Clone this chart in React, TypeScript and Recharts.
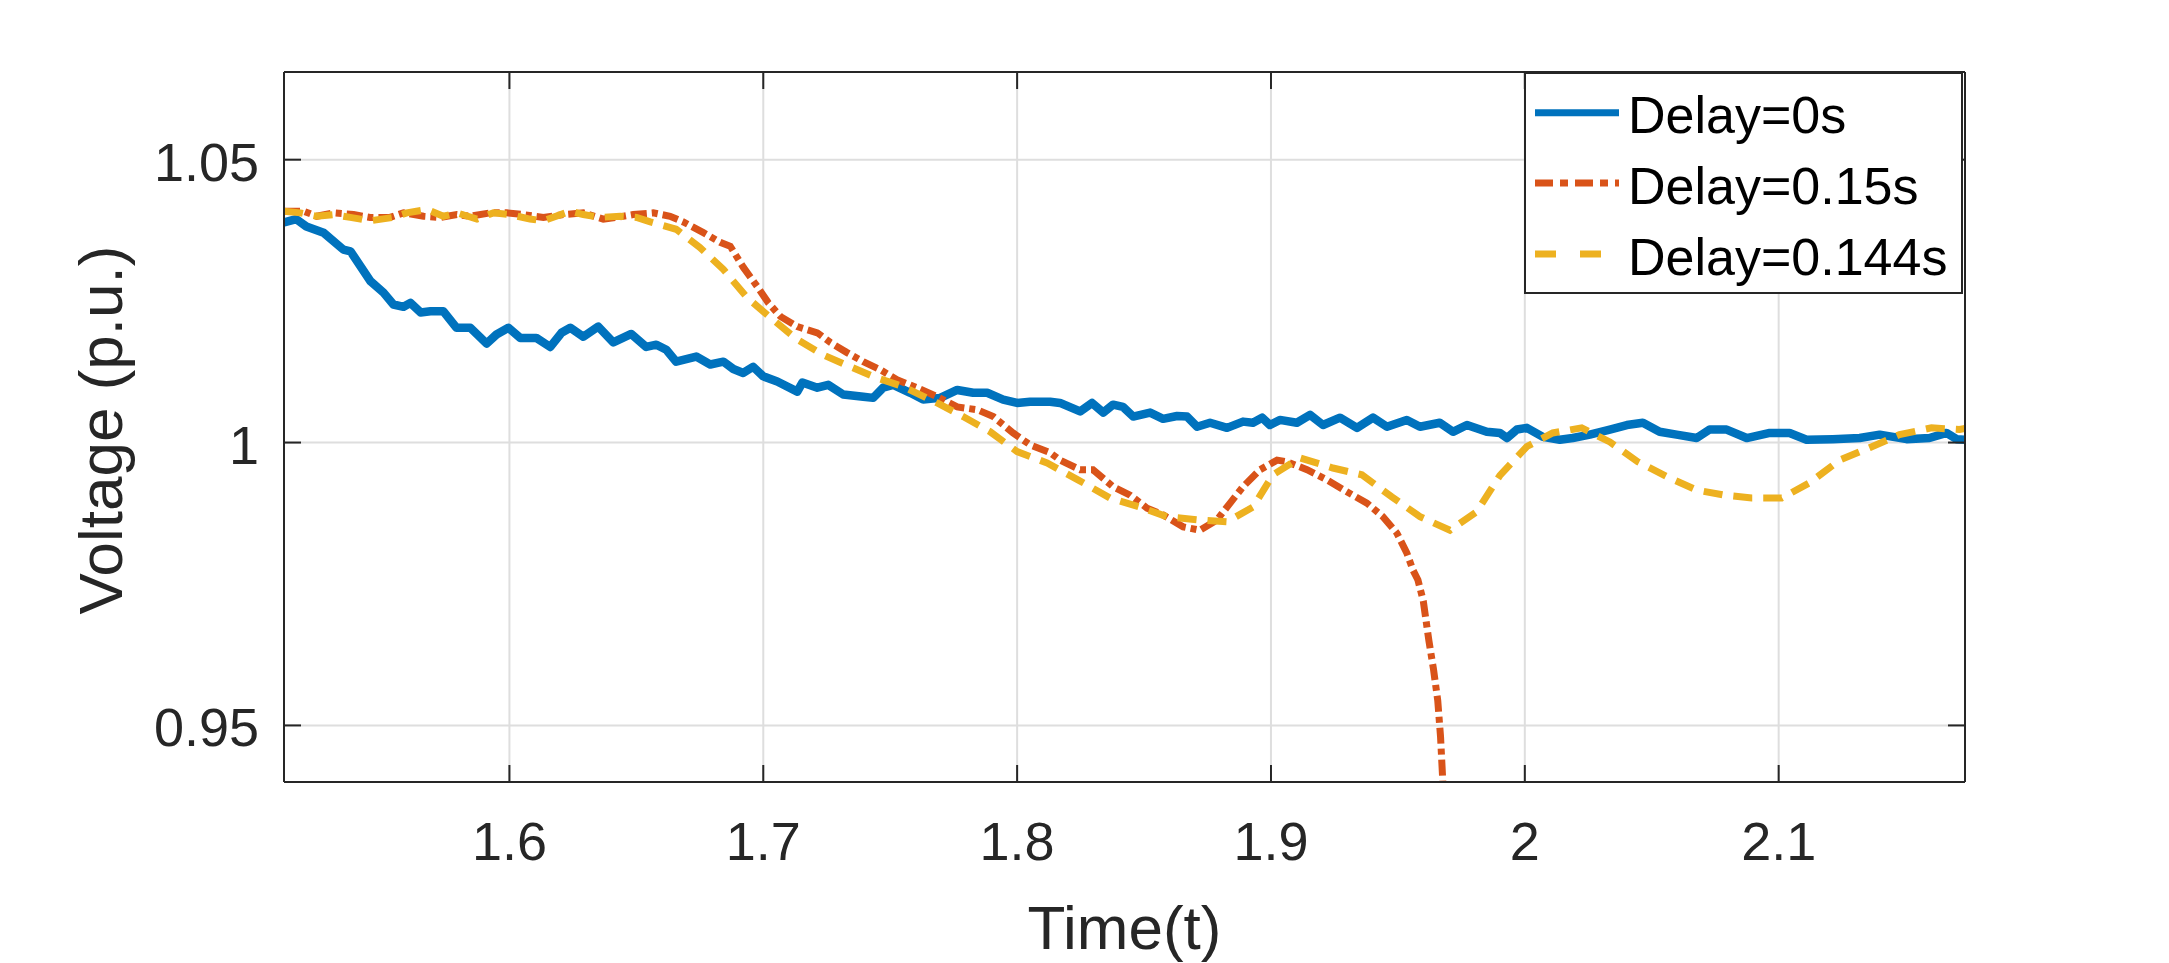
import React from 'react';
import { LineChart, Line, XAxis, YAxis, CartesianGrid, Legend } from 'recharts';

const xTicks = [1.6, 1.7, 1.8, 1.9, 2, 2.1];
const yTicks = [0.95, 1, 1.05];
const xDomain: [number, number] = [1.5112, 2.1734];
const yDomain: [number, number] = [0.94, 1.0655];
const seriesNames = ['Delay=0s', 'Delay=0.15s', 'Delay=0.144s'];
const seriesColors = ['#0072BD', '#D95319', '#EDB120'];

const delay0Raw: [number, number][] = [
  [1.5112, 1.0389], [1.516, 1.0395], [1.52, 1.0382], [1.5268, 1.0371], [1.5346, 1.0341], [1.5374, 1.0338],
  [1.5453, 1.0285], [1.5504, 1.0265], [1.5543, 1.0244], [1.5583, 1.024], [1.561, 1.0247], [1.565, 1.023],
  [1.5689, 1.0232], [1.574, 1.0232], [1.5791, 1.0203], [1.5846, 1.0203], [1.591, 1.0175], [1.5949, 1.0191],
  [1.5996, 1.0203], [1.6043, 1.0185], [1.6106, 1.0185], [1.6161, 1.0169], [1.6205, 1.0194], [1.624, 1.0203],
  [1.6291, 1.0187], [1.635, 1.0205], [1.6409, 1.0177], [1.648, 1.0192], [1.6539, 1.0169], [1.6579, 1.0173],
  [1.6618, 1.0164], [1.6657, 1.0143], [1.6736, 1.0152], [1.6791, 1.0138], [1.6843, 1.0143], [1.6882, 1.013],
  [1.6921, 1.0123], [1.696, 1.0134], [1.7, 1.0117], [1.7055, 1.0108], [1.7134, 1.009], [1.7154, 1.0106],
  [1.7213, 1.0097], [1.7256, 1.0102], [1.7315, 1.0085], [1.7394, 1.0081], [1.7433, 1.0079], [1.7472, 1.0097],
  [1.7512, 1.0102], [1.7579, 1.0088], [1.763, 1.0076], [1.7697, 1.0079], [1.7764, 1.0093], [1.7827, 1.0088],
  [1.7882, 1.0088], [1.7945, 1.0076], [1.8, 1.007], [1.8051, 1.0072], [1.813, 1.0072], [1.8169, 1.007],
  [1.8248, 1.0055], [1.8295, 1.007], [1.8339, 1.0053], [1.8378, 1.0067], [1.8417, 1.0063], [1.8457, 1.0046],
  [1.8524, 1.0053], [1.8575, 1.0042], [1.863, 1.0047], [1.8669, 1.0046], [1.8709, 1.0028], [1.876, 1.0035],
  [1.8827, 1.0026], [1.889, 1.0037], [1.8929, 1.0035], [1.8965, 1.0044], [1.8996, 1.0031], [1.9035, 1.004],
  [1.9102, 1.0035], [1.9154, 1.0049], [1.9205, 1.0031], [1.9272, 1.0044], [1.9339, 1.0026], [1.9402, 1.0044],
  [1.9457, 1.0028], [1.9535, 1.004], [1.9587, 1.0028], [1.9665, 1.0035], [1.9717, 1.0019], [1.9772, 1.0031],
  [1.985, 1.0019], [1.9902, 1.0017], [1.993, 1.0008], [1.9969, 1.0023], [2.0008, 1.0026], [2.0071, 1.001],
  [2.0138, 1.0005], [2.0189, 1.0008], [2.0256, 1.0014], [2.0335, 1.0023], [2.0402, 1.0031], [2.0465, 1.0035],
  [2.0531, 1.0019], [2.0598, 1.0014], [2.0677, 1.0008], [2.0728, 1.0023], [2.0795, 1.0023], [2.0874, 1.0008],
  [2.0965, 1.0017], [2.1043, 1.0017], [2.111, 1.0005], [2.1213, 1.0006], [2.1319, 1.0008], [2.1398, 1.0014],
  [2.1504, 1.0006], [2.1594, 1.0008], [2.1661, 1.0017], [2.1701, 1.0006], [2.1734, 1.0005],
];

const delay015Raw: [number, number][] = [
  [1.5112, 1.0409], [1.5189, 1.0409], [1.5241, 1.04], [1.5307, 1.0406], [1.5386, 1.0403], [1.5451, 1.0398],
  [1.553, 1.0398], [1.5583, 1.0406], [1.5662, 1.04], [1.5727, 1.0398], [1.5793, 1.0403], [1.5845, 1.04],
  [1.5924, 1.0406], [1.599, 1.0406], [1.6055, 1.0403], [1.6134, 1.0398], [1.6213, 1.0403], [1.6291, 1.0406],
  [1.637, 1.0395], [1.6423, 1.0398], [1.6488, 1.0403], [1.6567, 1.0406], [1.6633, 1.04], [1.6685, 1.039],
  [1.6764, 1.0371], [1.683, 1.0354], [1.687, 1.0347], [1.6921, 1.031], [1.6976, 1.0276], [1.702, 1.0247],
  [1.7067, 1.0223], [1.7134, 1.0205], [1.7213, 1.0194], [1.7264, 1.0177], [1.733, 1.0159], [1.7394, 1.0143],
  [1.746, 1.0129], [1.7527, 1.0111], [1.7606, 1.0097], [1.7685, 1.0081], [1.7764, 1.0063], [1.7843, 1.0058],
  [1.7906, 1.0046], [1.7984, 1.0017], [1.8051, 0.9996], [1.813, 0.9982], [1.8169, 0.9969], [1.8248, 0.9952],
  [1.8299, 0.9952], [1.8378, 0.9922], [1.8445, 0.9907], [1.8512, 0.9884], [1.8575, 0.9872], [1.8654, 0.9851],
  [1.872, 0.9845], [1.8787, 0.9863], [1.8839, 0.9893], [1.889, 0.9922], [1.8957, 0.9952], [1.9024, 0.9969],
  [1.9063, 0.9966], [1.9142, 0.9952], [1.922, 0.9934], [1.9299, 0.9913], [1.9378, 0.9893], [1.9441, 0.9869],
  [1.9496, 0.984], [1.9535, 0.9805], [1.9559, 0.9775], [1.9579, 0.9757], [1.96, 0.972], [1.9622, 0.965],
  [1.964, 0.96], [1.9657, 0.9544], [1.9668, 0.948], [1.9677, 0.94], [1.9685, 0.93],
];

const delay0144Raw: [number, number][] = [
  [1.5112, 1.0409], [1.5176, 1.0406], [1.5241, 1.04], [1.5307, 1.0403], [1.5373, 1.0398], [1.5451, 1.0392],
  [1.5543, 1.0398], [1.5596, 1.0406], [1.5675, 1.0412], [1.574, 1.04], [1.5793, 1.0406], [1.5872, 1.0395],
  [1.5937, 1.0406], [1.6003, 1.0403], [1.6081, 1.0395], [1.6134, 1.0392], [1.6239, 1.0409], [1.6291, 1.0403],
  [1.6357, 1.0398], [1.6436, 1.04], [1.6501, 1.0398], [1.6555, 1.039], [1.6657, 1.0377], [1.675, 1.0345],
  [1.6843, 1.0306], [1.6937, 1.0256], [1.7028, 1.0221], [1.7134, 1.0182], [1.7236, 1.0155], [1.7343, 1.0134],
  [1.7449, 1.0114], [1.7551, 1.0099], [1.7685, 1.007], [1.7787, 1.0046], [1.7894, 1.0019], [1.8, 0.9984],
  [1.8118, 0.9964], [1.8236, 0.9935], [1.8366, 0.9902], [1.8484, 0.9886], [1.859, 0.9869], [1.872, 0.9863],
  [1.8827, 0.986], [1.8929, 0.9886], [1.9008, 0.9943], [1.9114, 0.9973], [1.9244, 0.9955], [1.9358, 0.9943],
  [1.9476, 0.9904], [1.9587, 0.9869], [1.9705, 0.9845], [1.9811, 0.9878], [1.9902, 0.9942], [2.0008, 0.9993],
  [2.011, 1.0017], [2.0224, 1.0026], [2.0335, 1.0001], [2.0445, 0.9966], [2.0563, 0.9939], [2.0677, 0.9916],
  [2.0787, 0.9907], [2.0894, 0.9902], [2.1012, 0.9902], [2.1122, 0.9929], [2.124, 0.9969], [2.1358, 0.9991],
  [2.1476, 1.0014], [2.1602, 1.0026], [2.1713, 1.0023], [2.1734, 1.0025],
];

const toPts = (a: [number, number][]) => a.map(([t, v]) => ({ t, v }));
const delay0 = toPts(delay0Raw);
const delay015 = toPts(delay015Raw);
const delay0144 = toPts(delay0144Raw);

const AX = '#262626';
const FONT = '"Liberation Sans", Arial, Helvetica, sans-serif';
const TICK_LEN = 17;
const fmt = (v: number) => String(v);

function BottomTick(props: any) {
  const { x, y, payload } = props;
  return (
    <g>
      <line x1={x} x2={x} y1={y} y2={y - TICK_LEN} stroke={AX} strokeWidth={2} />
      <text x={x} y={y + 78} textAnchor="middle" fontSize={54} fontFamily={FONT} fill={AX}>
        {fmt(payload.value)}
      </text>
    </g>
  );
}
function TopTick(props: any) {
  const { x, y } = props;
  return <line x1={x} x2={x} y1={y} y2={y + TICK_LEN} stroke={AX} strokeWidth={2} />;
}
function LeftTick(props: any) {
  const { x, y, payload } = props;
  return (
    <g>
      <line x1={x} x2={x + TICK_LEN} y1={y} y2={y} stroke={AX} strokeWidth={2} />
      <text x={x - 25} y={y + 21} textAnchor="end" fontSize={54} fontFamily={FONT} fill={AX}>
        {fmt(payload.value)}
      </text>
    </g>
  );
}
function RightTick(props: any) {
  const { x, y } = props;
  return <line x1={x} x2={x - TICK_LEN} y1={y} y2={y} stroke={AX} strokeWidth={2} />;
}

const legendRows = [
  { line: 40.7, base: 60.7, dash: undefined as string | undefined },
  { line: 111, base: 132, dash: '18 7 8 7' },
  { line: 182, base: 203, dash: '21 24' },
];

function LegendBox() {
  return (
    <svg width={439} height={222} style={{ display: 'block' }}>
      <rect x={1} y={1} width={437} height={220} fill="#fff" stroke={AX} strokeWidth={2} />
      {legendRows.map((r, i) => (
        <g key={i}>
          <line x1={11} x2={95} y1={r.line} y2={r.line} stroke={seriesColors[i]} strokeWidth={7} strokeDasharray={r.dash} />
          <text x={104} y={r.base} fontSize={52} fontFamily={FONT} fill="#000">
            {seriesNames[i]}
          </text>
        </g>
      ))}
    </svg>
  );
}

export default function App() {
  return (
    <div style={{ position: 'absolute', left: 0, top: 0, width: 2169, height: 963, background: '#fff' }}>
      <LineChart width={2169} height={963} margin={{ top: 0, right: 0, bottom: 0, left: 0 }}>
        <CartesianGrid stroke="#dedede" strokeWidth={2} />
        <XAxis
          xAxisId={0}
          type="number"
          dataKey="t"
          domain={xDomain}
          allowDataOverflow
          ticks={xTicks}
          interval={0}
          height={181}
          tickSize={0}
          tickMargin={0}
          tickLine={false}
          axisLine={{ stroke: AX, strokeWidth: 2 }}
          tick={BottomTick}
          label={{
            content: (p: any) => {
              const vb = p.viewBox || {};
              return (
                <text x={vb.x + vb.width / 2} y={949} textAnchor="middle" fontSize={62} fontFamily={FONT} fill={AX}>
                  Time(t)
                </text>
              );
            },
          }}
        />
        <XAxis
          xAxisId="top"
          orientation="top"
          type="number"
          dataKey="t"
          domain={xDomain}
          allowDataOverflow
          ticks={xTicks}
          interval={0}
          height={72}
          tickSize={0}
          tickMargin={0}
          tickLine={false}
          axisLine={{ stroke: AX, strokeWidth: 2 }}
          tick={TopTick}
        />
        <YAxis
          yAxisId={0}
          type="number"
          domain={yDomain}
          allowDataOverflow
          ticks={yTicks}
          interval={0}
          width={284}
          tickSize={0}
          tickMargin={0}
          tickLine={false}
          axisLine={{ stroke: AX, strokeWidth: 2 }}
          tick={LeftTick}
          label={{
            content: (p: any) => {
              const vb = p.viewBox || {};
              const cx = 122;
              const cy = vb.y + vb.height / 2 + 3;
              return (
                <text x={cx} y={cy} transform={`rotate(-90 ${cx} ${cy})`} textAnchor="middle" fontSize={62} fontFamily={FONT} fill={AX}>
                  Voltage (p.u.)
                </text>
              );
            },
          }}
        />
        <YAxis
          yAxisId="right"
          orientation="right"
          type="number"
          domain={yDomain}
          allowDataOverflow
          ticks={yTicks}
          interval={0}
          width={204}
          tickSize={0}
          tickMargin={0}
          tickLine={false}
          axisLine={{ stroke: AX, strokeWidth: 2 }}
          tick={RightTick}
        />
        <Line data={delay0} dataKey="v" name={seriesNames[0]} type="linear" stroke={seriesColors[0]} strokeWidth={8.5} strokeLinejoin="round" dot={false} activeDot={false} isAnimationActive={false} />
        <Line data={delay015} dataKey="v" name={seriesNames[1]} type="linear" stroke={seriesColors[1]} strokeWidth={7} strokeDasharray="16 5 6 5" dot={false} activeDot={false} isAnimationActive={false} />
        <Line data={delay0144} dataKey="v" name={seriesNames[2]} type="linear" stroke={seriesColors[2]} strokeWidth={7} strokeDasharray="19 11" dot={false} activeDot={false} isAnimationActive={false} />
        <Legend
          layout="horizontal"
          align="center"
          verticalAlign="middle"
          content={() => <LegendBox />}
          wrapperStyle={{ position: 'absolute', left: 1524, top: 72, width: 439, height: 222, margin: 0, padding: 0, lineHeight: 0 }}
        />
      </LineChart>
    </div>
  );
}
